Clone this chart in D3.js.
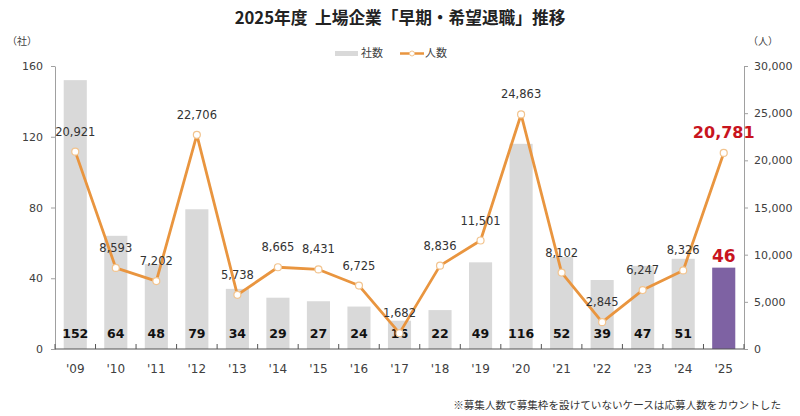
<!DOCTYPE html>
<html>
<head>
<meta charset="utf-8">
<script src="https://cdn.jsdelivr.net/npm/d3@7"></script>
<style>
  body { margin: 0; background: #fff; }
  svg { display: block; }
  .num { font-family: "DejaVu Sans", Verdana, sans-serif; }
  .jp { font-family: "Noto Sans CJK JP", sans-serif; }
</style>
</head>
<body>
<svg id="chart" width="800" height="416"></svg>
<script>
// data
var years = ["'09","'10","'11","'12","'13","'14","'15","'16","'17","'18","'19","'20","'21","'22","'23","'24","'25"]
var companies = [152, 64, 48, 79, 34, 29, 27, 24, 16, 22, 49, 116, 52, 39, 47, 51, 46]
var people = [20921, 8593, 7202, 22706, 5738, 8665, 8431, 6725, 1682, 8836, 11501, 24863, 8102, 2845, 6247, 8326, 20781]
var leftTicks = [0, 40, 80, 120, 160]
var rightTicks = [0, 5000, 10000, 15000, 20000, 25000, 30000]

var svg = d3.select("#chart")
// plot box (window.top is reserved, so use other names)
var pLeft = 55, pRight = 744, pTop = 66, pBottom = 349
var axisColor = "#a0a0a0"
var textColor = "#404040"
var orange = "#e9953f"
var red = "#c8141e"
var last = years.length - 1

var x = d3.scaleBand().domain(years).range([pLeft, pRight])
    .paddingInner(0.43).paddingOuter(0.215)
var yL = d3.scaleLinear().domain([0, 160]).range([pBottom, pTop])
var yR = d3.scaleLinear().domain([0, 30000]).range([pBottom, pTop])
var cx = function(i){ return x(years[i]) + x.bandwidth() / 2 }

// title
svg.append("text")
    .attr("class", "jp")
    .attr("x", 400).attr("y", 24)
    .attr("text-anchor", "middle")
    .style("font-size", "16.7px").style("font-weight", "bold")
    .style("fill", "#222")
    .text("2025年度\u00a0\u00a0上場企業「早期・希望退職」推移")

// unit labels
svg.append("text").attr("class", "jp").attr("x", 22).attr("y", 45)
    .attr("text-anchor", "middle").style("font-size", "10px").style("fill", textColor).text("（社）")
svg.append("text").attr("class", "jp").attr("x", 763).attr("y", 45)
    .attr("text-anchor", "middle").style("font-size", "10px").style("fill", textColor).text("（人）")

// legend
svg.append("rect").attr("x", 335).attr("y", 51).attr("width", 23).attr("height", 5).style("fill", "#d9d9d9")
svg.append("text").attr("class", "jp").attr("x", 361).attr("y", 57)
    .style("font-size", "11px").style("fill", textColor).text("社数")
svg.append("line").attr("x1", 400).attr("x2", 424).attr("y1", 53.5).attr("y2", 53.5)
    .style("stroke", orange).style("stroke-width", 2.5)
svg.append("circle").attr("cx", 412).attr("cy", 53.5).attr("r", 2.5)
    .style("fill", "#fff").style("stroke", "#f2c48f").style("stroke-width", 1)
svg.append("text").attr("class", "jp").attr("x", 425).attr("y", 57)
    .style("font-size", "11px").style("fill", textColor).text("人数")

// bars
svg.append("g")
    .selectAll("rect")
    .data(companies)
    .enter()
    .append("rect")
    .attr("x", function(d, i){ return x(years[i]) })
    .attr("y", function(d){ return yL(d) })
    .attr("width", x.bandwidth())
    .attr("height", function(d){ return pBottom - yL(d) })
    .style("fill", function(d, i){ return i === last ? "#7e62a3" : "#d9d9d9" })

// bar labels
svg.append("g")
    .selectAll("text")
    .data(companies)
    .enter()
    .append("text")
    .attr("class", "num")
    .attr("x", function(d, i){ return cx(i) })
    .attr("y", function(d, i){ return i === last ? yL(d) - 6 : 338 })
    .attr("text-anchor", "middle")
    .style("font-weight", "bold")
    .style("font-size", function(d, i){ return i === last ? "17px" : "12.5px" })
    .style("fill", function(d, i){ return i === last ? red : "#111" })
    .text(function(d){ return d })

// axes
var gL = svg.append("g")
    .attr("transform", "translate(" + pLeft + ",0)")
    .call(d3.axisLeft(yL).tickValues(leftTicks).tickSize(4).tickPadding(8).tickSizeOuter(0))
gL.selectAll("text").attr("class", "num").style("font-size", "11px").style("fill", textColor)
gL.selectAll("line, path").style("stroke", axisColor)

var gR = svg.append("g")
    .attr("transform", "translate(" + pRight + ",0)")
    .call(d3.axisRight(yR).tickValues(rightTicks).tickFormat(d3.format(",")).tickSize(4).tickPadding(6).tickSizeOuter(0))
gR.selectAll("text").attr("class", "num").style("font-size", "11px").style("fill", textColor)
gR.selectAll("line, path").style("stroke", axisColor)

// x axis: baseline, boundary ticks and labels
var gX = svg.append("g")
gX.append("line").attr("x1", pLeft).attr("x2", pRight).attr("y1", pBottom).attr("y2", pBottom)
    .style("stroke", "#555").style("stroke-width", 1.2)
var bounds = years.map(function(d){ return x(d) - x.step() * x.paddingInner() / 2 })
bounds.push(pRight)
gX.selectAll(".tk")
    .data(bounds)
    .enter()
    .append("line")
    .attr("class", "tk")
    .attr("x1", function(d){ return d }).attr("x2", function(d){ return d })
    .attr("y1", pBottom).attr("y2", pBottom - 5)
    .style("stroke", "#555")
gX.selectAll(".xl")
    .data(years)
    .enter()
    .append("text")
    .attr("class", "num xl")
    .attr("x", function(d, i){ return cx(i) })
    .attr("y", 373)
    .attr("text-anchor", "middle")
    .style("font-size", "12px")
    .style("fill", textColor)
    .text(function(d){ return d })

// line of people
var line = d3.line()
    .x(function(d, i){ return cx(i) })
    .y(function(d){ return yR(d) })
svg.append("path")
    .datum(people)
    .attr("d", line)
    .style("fill", "none")
    .style("stroke", orange)
    .style("stroke-width", 2.8)
    .style("stroke-linejoin", "round")

svg.append("g")
    .selectAll("circle")
    .data(people)
    .enter()
    .append("circle")
    .attr("cx", function(d, i){ return cx(i) })
    .attr("cy", function(d){ return yR(d) })
    .attr("r", 3.5)
    .style("fill", "#fff")
    .style("stroke", "#f2c48f")
    .style("stroke-width", 1.2)

// people labels
svg.append("g")
    .selectAll("text")
    .data(people)
    .enter()
    .append("text")
    .attr("class", "num")
    .attr("x", function(d, i){ return cx(i) })
    .attr("y", function(d, i){ return yR(d) - (i === last ? 15 : 16) })
    .attr("text-anchor", "middle")
    .style("font-size", function(d, i){ return i === last ? "16px" : "11.5px" })
    .style("font-weight", function(d, i){ return i === last ? "bold" : "normal" })
    .style("fill", function(d, i){ return i === last ? red : "#333" })
    .text(function(d){ return d3.format(",")(d) })

// footnote
svg.append("text")
    .attr("class", "jp")
    .attr("x", 781).attr("y", 409)
    .attr("text-anchor", "end")
    .style("font-size", "10.6px")
    .style("fill", "#333")
    .text("※募集人数で募集枠を設けていないケースは応募人数をカウントした")
</script>
</body>
</html>
